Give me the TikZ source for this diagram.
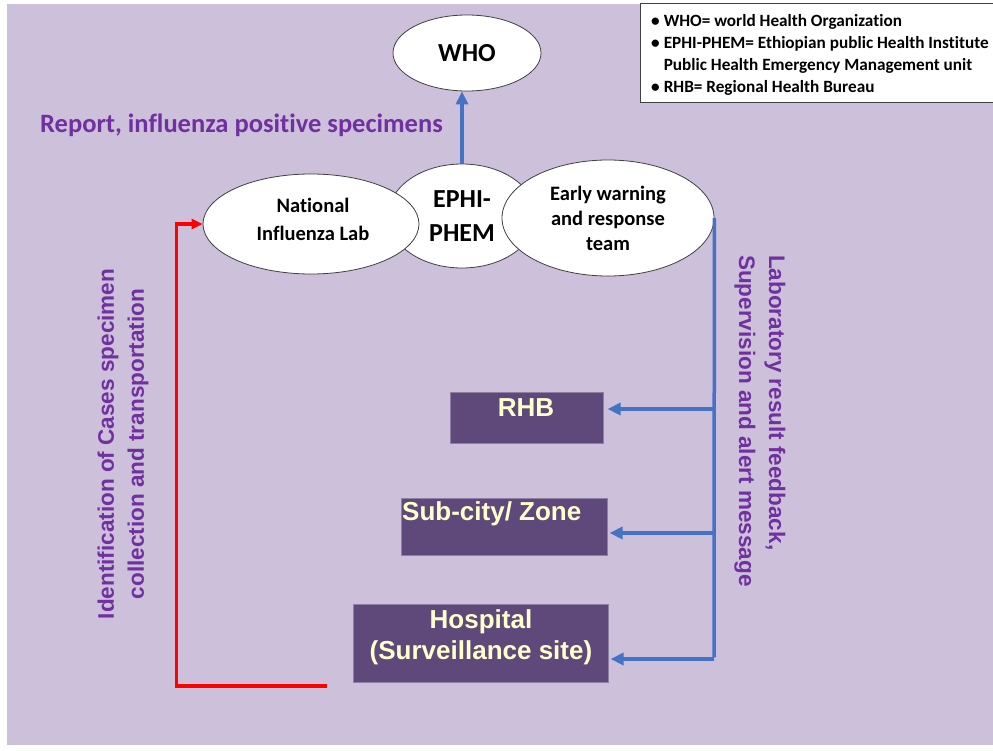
\documentclass[tikz,border=0pt]{standalone}
\usepackage{fontspec}
\setmainfont{Carlito}[Ligatures=NoCommon]
\newfontfamily\arialfont{Liberation Sans}
\usetikzlibrary{shapes.geometric,arrows.meta}

\definecolor{bgpurple}{RGB}{204,192,218}
\definecolor{boxpurple}{RGB}{95,73,122}
\definecolor{cream}{RGB}{255,255,204}
\definecolor{txtpurple}{RGB}{112,48,160}
\definecolor{flowblue}{RGB}{68,114,196}
\definecolor{outline}{RGB}{64,64,64}

\begin{document}
\begin{tikzpicture}[x=1pt,y=-1pt,
  ellip/.style={ellipse, draw=outline, line width=0.8pt, fill=white, inner sep=0pt,
    align=center, font=\bfseries},
  unitbox/.style={rectangle, draw=boxpurple!70!white, line width=0.6pt, fill=boxpurple,
    anchor=north west, inner sep=0pt},
  boxtext/.style={text=cream, inner sep=0pt, align=center,
    font=\arialfont\bfseries\fontsize{26}{31}\selectfont},
  sidetext/.style={text=txtpurple, inner sep=0pt,
    font=\arialfont\bfseries\fontsize{22.5}{30}\selectfont},
  flowline/.style={draw=flowblue, line width=3.5pt},
  flowarrow/.style={draw=flowblue, line width=3.5pt,
    -{Triangle[length=13pt,width=12pt]}},
  redflow/.style={draw=red, line width=3.5pt,
    -{Triangle[length=11pt,width=10pt]}}
]
\useasboundingbox (0,0) rectangle (993,751);
\fill[bgpurple] (7,4) rectangle (993,745);

% legend
\draw[fill=white, draw=outline, line width=1pt] (640,4) rectangle (998,103);
\node[anchor=north west, inner sep=0pt, align=left,
  font=\bfseries\fontsize{17.2}{22}\selectfont] (legend) at (651,11)
  {\begin{tabular}{@{}l@{\hspace{4pt}}l@{}}
   \textbullet & WHO= world Health Organization\\
   \textbullet & EPHI-PHEM= Ethiopian public Health Institute\\
               & Public Health Emergency Management unit\\
   \textbullet & RHB= Regional Health Bureau
   \end{tabular}};

% national level
\node[ellip, minimum width=148, minimum height=76,
  font=\bfseries\fontsize{26}{30}\selectfont] (who) at (467,53) {WHO};
\node[ellip, minimum width=148, minimum height=104,
  font=\bfseries\fontsize{26}{34}\selectfont] (ephi) at (462,216) {EPHI-\\PHEM};
\node[ellip, minimum width=216, minimum height=100] (nil) at (311,224) {};
\node[inner sep=0pt, align=center, font=\bfseries\fontsize{20.5}{28}\selectfont]
  (nilt) at (313,219) {National\\Influenza Lab};
\node[ellip, minimum width=212, minimum height=116,
  font=\bfseries\fontsize{20.5}{25}\selectfont] (ew) at (608,218) {Early warning\\and response\\team};

\draw[flowarrow] (ephi.north) -- (ephi.north |- who.south);
\node[anchor=west, inner sep=0pt, text=txtpurple,
  font=\bfseries\fontsize{26.5}{30}\selectfont] (report) at (40,125)
  {Report, influenza positive specimens};

% regional and site level
\node[unitbox, minimum width=153, minimum height=51] (rhb) at (450,392) {};
\node[unitbox, minimum width=206, minimum height=57] (zone) at (401,498) {};
\node[unitbox, minimum width=255, minimum height=78] (hosp) at (353,604) {};
\node[boxtext] (rhbt) at (526,408) {RHB};
\node[boxtext, anchor=west] (zonet) at (402,514) {Sub-city/ Zone};
\node[boxtext] (hospt) at (481,637) {Hospital\\(Surveillance site)};

% feedback from the early warning team
\coordinate (j1) at (714,409);
\coordinate (j2) at (714,533);
\coordinate (j3) at (714,659);
\draw[flowline] (ew.east) -- ([yshift=1.75pt]j3);
\draw[flowarrow] (j1) -- ([xshift=4pt]j1 -| rhb.east);
\draw[flowarrow] (j2) -- ([xshift=2pt]j2 -| zone.east);
\draw[flowarrow] (j3) -- ([xshift=2pt]j3 -| hosp.east);
\node[sidetext, rotate=-90, anchor=west, align=left] (fb) at (760,255)
  {Laboratory result feedback,\\Supervision and alert message};

% specimen flow back to the lab
\coordinate (rs) at (327,686);
\draw[redflow] (rs) -| ([xshift=-26pt]nil.west) -- (nil.west);
\node[sidetext, rotate=90, align=center] (spec) at (123,444)
  {Identification of Cases specimen\\collection and transportation};
\end{tikzpicture}
\end{document}
